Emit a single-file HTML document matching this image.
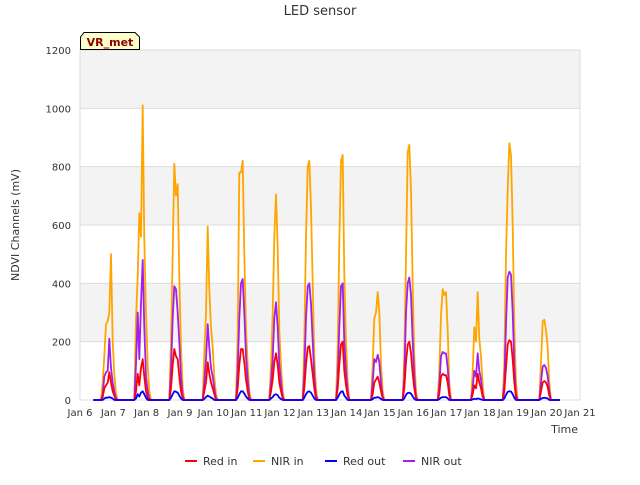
<!DOCTYPE html>
<html><head><meta charset="utf-8"><style>
body{margin:0;background:#fff;font-family:"Liberation Sans","DejaVu Sans",sans-serif}
svg text{font-family:"DejaVu Sans","Liberation Sans",sans-serif}
</style></head><body>
<svg id="c" width="640" height="480" xmlns="http://www.w3.org/2000/svg">
<rect width="640" height="480" fill="#fff"/>
<text x="320" y="15" text-anchor="middle" font-size="13" fill="#333">LED sensor</text>
<g id="grid"></g>
<g id="lines"></g>
<g id="axes"></g>
<text transform="translate(19,225) rotate(-90)" text-anchor="middle" font-size="11" fill="#333">NDVI Channels (mV)</text>
<text x="578" y="433" text-anchor="end" font-size="11" fill="#333">Time</text>
<g>
<path d="M80.5,49.5 L80.5,37 L84,32.5 L135,32.5 L139.5,37 L139.5,49.5 Z" fill="#ffffcc" stroke="#000"/>
<text x="110" y="46" text-anchor="middle" font-size="11" font-weight="bold" fill="#8b0000">VR_met</text>
</g>
<g id="legend"></g>
</svg>
<script>
const days=[6,7,8,9,10,11,12,13,14,15,16,17,18,19];
const sampleOffsets=[0.58,0.63,0.68,0.73,0.78,0.83,0.88,0.93,0.98,1.03,1.08,1.13,1.18];
const nirIn=[
[0,0,60,150,260,270,300,500,200,90,20,0,0],
[0,0,280,420,640,560,1010,550,300,120,30,0,0],
[0,0,0,200,500,810,700,740,420,180,40,0,0],
[0,0,0,160,300,595,380,250,180,80,20,0,0],
[0,0,0,230,780,780,820,500,250,120,30,0,0],
[0,0,0,120,300,560,705,520,240,120,30,0,0],
[0,0,0,200,560,800,820,660,400,150,40,0,0],
[0,0,0,180,540,820,840,430,200,60,0,0,0],
[0,0,0,0,120,280,300,370,300,120,30,0,0],
[0,0,0,150,490,850,875,720,390,150,30,0,0],
[0,0,0,0,100,290,380,360,370,240,60,0,0],
[0,0,0,0,100,250,200,370,210,150,50,0,0],
[0,0,0,120,500,720,880,840,600,250,60,0,0],
[0,0,0,0,0,130,270,275,240,180,60,0,0]];
const nirOut=[
[0,0,20,80,95,100,210,110,60,30,5,0,0],
[0,0,120,300,140,330,480,250,80,30,5,0,0],
[0,0,0,100,280,390,380,300,200,80,15,0,0],
[0,0,0,60,140,260,180,110,80,40,5,0,0],
[0,0,0,100,280,400,415,300,150,70,10,0,0],
[0,0,0,60,140,280,335,250,120,60,10,0,0],
[0,0,0,90,280,390,400,330,200,80,15,0,0],
[0,0,0,70,250,390,400,200,100,30,0,0,0],
[0,0,0,0,60,140,130,155,130,60,10,0,0],
[0,0,0,80,300,400,420,360,200,80,10,0,0],
[0,0,0,0,50,150,165,160,160,110,30,0,0],
[0,0,0,0,40,100,80,160,100,70,20,0,0],
[0,0,0,60,260,420,440,430,300,120,20,0,0],
[0,0,0,0,0,60,115,120,110,80,30,0,0]];
const redIn=[
[0,0,10,40,50,60,95,60,30,15,0,0,0],
[0,0,30,90,50,110,140,80,30,10,0,0,0],
[0,0,0,40,120,175,150,140,80,30,5,0,0],
[0,0,0,30,60,130,90,60,40,20,0,0,0],
[0,0,0,40,120,175,175,130,70,30,5,0,0],
[0,0,0,30,70,130,160,120,60,30,5,0,0],
[0,0,0,40,120,180,185,140,90,40,5,0,0],
[0,0,0,40,120,190,200,100,50,15,0,0,0],
[0,0,0,0,20,60,70,80,60,30,5,0,0],
[0,0,0,40,130,190,200,160,90,40,5,0,0],
[0,0,0,0,20,80,90,85,85,60,15,0,0],
[0,0,0,0,20,50,40,90,60,40,10,0,0],
[0,0,0,30,110,190,205,200,140,60,10,0,0],
[0,0,0,0,0,30,60,65,60,45,15,0,0]];
const redOut=[
[0,0,0,5,8,8,10,8,5,0,0,0,0],
[0,0,5,20,12,25,30,20,8,0,0,0,0],
[0,0,0,8,20,30,28,25,15,5,0,0,0],
[0,0,0,4,10,15,12,8,5,0,0,0,0],
[0,0,0,8,20,30,30,22,12,5,0,0,0],
[0,0,0,5,10,18,20,16,8,3,0,0,0],
[0,0,0,8,20,28,30,25,15,5,0,0,0],
[0,0,0,8,20,28,30,15,8,0,0,0,0],
[0,0,0,0,3,8,8,10,8,3,0,0,0],
[0,0,0,6,18,24,25,22,12,4,0,0,0],
[0,0,0,0,3,8,10,10,10,6,0,0,0],
[0,0,0,0,2,4,3,5,4,2,0,0,0],
[0,0,0,5,18,28,30,29,20,8,0,0,0],
[0,0,0,0,0,4,7,8,7,5,0,0,0]];
const yTicks=[0,200,400,600,800,1000,1200];
const xTicks=[6,7,8,9,10,11,12,13,14,15,16,17,18,19,20,21];
const L=80,R=580,T=50,B=400,X0=6,X1=21,YMAX=1200;
const sx=d=>L+(d-X0)/(X1-X0)*(R-L);
const sy=v=>B-v/YMAX*(B-T);
const NS="http://www.w3.org/2000/svg";
function mk(tag,attrs,parent){const e=document.createElementNS(NS,tag);for(const k in attrs)e.setAttribute(k,attrs[k]);parent.appendChild(e);return e;}
const grid=document.getElementById('grid'),axes=document.getElementById('axes'),lines=document.getElementById('lines'),legend=document.getElementById('legend');
for(let i=0;i<yTicks.length-1;i++){
  if(i%2===1){const b=mk('rect',{x:L,y:sy(yTicks[i+1]),width:R-L,height:sy(yTicks[i])-sy(yTicks[i+1]),fill:'#f3f3f3'},grid);
  
  }
}
yTicks.forEach(v=>{
  const g=mk('line',{x1:L,x2:R,y1:sy(v),y2:sy(v),stroke:'#dcdcdc'},grid);
  
  
  const t=mk('text',{x:L-9,y:sy(v)+4,'text-anchor':'end','font-size':'10',fill:'#333'},axes);
  t.textContent=v;
  
  
});
mk('rect',{x:L,y:T,width:R-L,height:B-T,fill:'none',stroke:'#ddd'},grid);
xTicks.forEach(d=>{
  const t=mk('text',{x:sx(d),y:B+16,'text-anchor':'middle','font-size':'10',fill:'#333'},axes);
  t.textContent='Jan '+d;
  
  
});
const series=[{n:'Red in',c:'#ff0000',d:redIn},{n:'NIR in',c:'#ffa500',d:nirIn},{n:'Red out',c:'#0000ff',d:redOut},{n:'NIR out',c:'#a020f0',d:nirOut}];
const drawOrder=[1,3,0,2];
drawOrder.forEach(si=>{
  const s=series[si];let pts=[sx(6.4).toFixed(1)+','+sy(0)];
  days.forEach((d,di)=>{sampleOffsets.forEach((o,k)=>pts.push(sx(d+o).toFixed(1)+','+sy(s.d[di][k]).toFixed(1)));});
  pts.push(sx(20.4).toFixed(1)+','+sy(0));
  const p=mk('polyline',{points:pts.join(' '),fill:'none',stroke:s.c,'stroke-width':'1.8','stroke-linejoin':'round'},lines);
  
  
});
const lx=[185,253,325,403];
series.forEach((s,i)=>{
  const g=mk('g',{},legend);
  
  
  mk('line',{x1:lx[i],x2:lx[i]+12,y1:461,y2:461,stroke:s.c,'stroke-width':'2'},g);
  const t=mk('text',{x:lx[i]+18,y:465,'font-size':'11',fill:'#333'},g);
  t.textContent=s.n;
});
</script>
</body></html>
